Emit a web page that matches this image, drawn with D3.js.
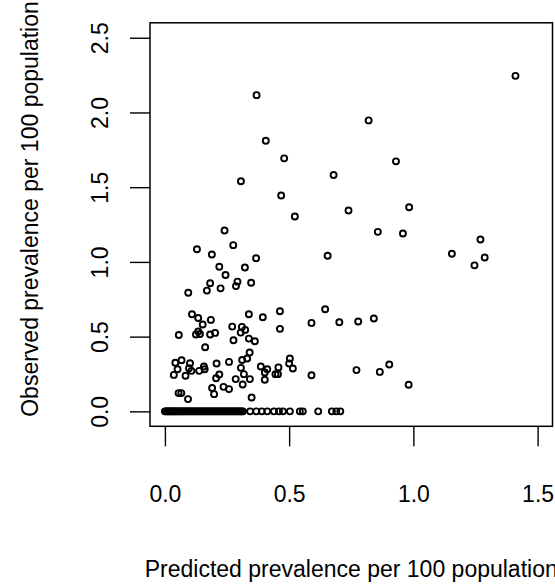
<!DOCTYPE html>
<html>
<head>
<meta charset="utf-8">
<script src="https://cdn.jsdelivr.net/npm/d3@7"></script>
<style>
  html, body { margin: 0; padding: 0; background: #fff; }
  svg { display: block; }
  text { font-family: "Liberation Sans", Arial, Helvetica, sans-serif; fill: #000; }
</style>
</head>
<body>
<svg id="chart" width="555" height="584"></svg>
<script>
// Areas with a non-zero observed prevalence: predicted vs observed (per 100 population)
const predictedPositive = [
  1.411, 0.369, 0.820, 0.406, 0.480, 0.930, 0.306, 0.679, 0.468, 0.523,
  0.739, 0.983, 0.240, 0.857, 0.958, 0.275, 0.129, 0.189, 0.367, 0.655,
  1.155, 1.270, 1.287, 1.246, 0.219, 0.322, 0.244, 0.182, 0.292, 0.347,
  0.169, 0.224, 0.286, 0.094, 0.109, 0.134, 0.185, 0.152, 0.338, 0.394,
  0.463, 0.463, 0.645, 0.590, 0.702, 0.778, 0.841, 0.056, 0.125, 0.134,
  0.141, 0.182, 0.202, 0.271, 0.310, 0.323, 0.305, 0.276, 0.338, 0.362,
  0.162, 0.341, 0.042, 0.067, 0.051, 0.036, 0.083, 0.101, 0.097, 0.107,
  0.138, 0.157, 0.160, 0.208, 0.219, 0.206, 0.190, 0.198, 0.236, 0.258,
  0.258, 0.311, 0.331, 0.306, 0.318, 0.285, 0.342, 0.313, 0.349, 0.386,
  0.402, 0.412, 0.402, 0.445, 0.455, 0.457, 0.503, 0.500, 0.515, 0.590,
  0.771, 0.865, 0.903, 0.981, 0.055, 0.066, 0.093
];
const observedPositive = [
  2.245, 2.116, 1.947, 1.811, 1.693, 1.673, 1.540, 1.582, 1.444, 1.304,
  1.344, 1.366, 1.210, 1.201, 1.190, 1.112, 1.085, 1.050, 1.025, 1.041,
  1.055, 1.150, 1.030, 0.977, 0.968, 0.963, 0.912, 0.857, 0.868, 0.861,
  0.808, 0.823, 0.838, 0.794, 0.650, 0.625, 0.612, 0.581, 0.650, 0.630,
  0.670, 0.552, 0.683, 0.592, 0.596, 0.601, 0.621, 0.511, 0.514, 0.534,
  0.518, 0.514, 0.525, 0.567, 0.565, 0.545, 0.527, 0.476, 0.487, 0.469,
  0.429, 0.394, 0.325, 0.342, 0.282, 0.244, 0.238, 0.322, 0.289, 0.271,
  0.271, 0.300, 0.282, 0.320, 0.247, 0.222, 0.156, 0.115, 0.164, 0.149,
  0.331, 0.344, 0.354, 0.291, 0.249, 0.216, 0.216, 0.180, 0.093, 0.300,
  0.260, 0.282, 0.211, 0.249, 0.249, 0.294, 0.354, 0.320, 0.287, 0.242,
  0.276, 0.264, 0.314, 0.178, 0.122, 0.122, 0.082
];
// Areas with no observed cases (observed prevalence 0): predicted values
const predictedZero = [
  0.000, 0.004, 0.009, 0.012, 0.016, 0.021, 0.024, 0.028, 0.033, 0.036,
  0.041, 0.045, 0.049, 0.054, 0.058, 0.062, 0.067, 0.071, 0.075, 0.080,
  0.084, 0.089, 0.093, 0.098, 0.102, 0.107, 0.111, 0.116, 0.121, 0.125,
  0.130, 0.134, 0.139, 0.143, 0.148, 0.153, 0.157, 0.162, 0.166, 0.171,
  0.176, 0.180, 0.185, 0.189, 0.194, 0.199, 0.203, 0.208, 0.212, 0.217,
  0.222, 0.226, 0.231, 0.235, 0.240, 0.245, 0.249, 0.254, 0.258, 0.263,
  0.268, 0.272, 0.277, 0.281, 0.286, 0.291, 0.295, 0.300, 0.305, 0.309,
  0.314, 0.343, 0.368, 0.390, 0.412, 0.439, 0.459, 0.475, 0.503, 0.543,
  0.555, 0.617, 0.672, 0.690, 0.706
];
const xTicks = [0, 0.5, 1.0, 1.5];
const yTicks = [0, 0.5, 1.0, 1.5, 2.0, 2.5];
const xTitle = "Predicted prevalence per 100 population";
const yTitle = "Observed prevalence per 100 population";

const points = predictedPositive.map((p, i) => ({ x: p, y: observedPositive[i] }))
  .concat(predictedZero.map(p => ({ x: p, y: 0 })));

const svg = d3.select("#chart");
const plot = { left: 150, right: 552.5, top: 22.8, bottom: 426.3 };

// Axis ranges padded by 4% on each side
const x = d3.scaleLinear().domain([-0.06, 1.56]).range([plot.left, plot.right]);
const y = d3.scaleLinear().domain([-0.1, 2.6]).range([plot.bottom, plot.top]);

const fmt = d3.format(".1f");
const fontSize = 23;

// Bottom axis
const gx = svg.append("g")
  .attr("transform", `translate(0,${plot.bottom})`)
  .call(d3.axisBottom(x).tickValues(xTicks).tickSize(20).tickFormat(fmt));
gx.select(".domain").remove();
gx.selectAll(".tick line").attr("stroke", "#000").attr("stroke-width", 1.4);
gx.selectAll(".tick text")
  .attr("y", 75.5).attr("dy", null)
  .attr("font-size", fontSize)
  .attr("font-family", "Liberation Sans, Arial, sans-serif");

// Left axis with rotated labels
const gy = svg.append("g")
  .attr("transform", `translate(${plot.left},0)`)
  .call(d3.axisLeft(y).tickValues(yTicks).tickSize(20).tickFormat(fmt));
gy.select(".domain").remove();
gy.selectAll(".tick line").attr("stroke", "#000").attr("stroke-width", 1.4);
gy.selectAll(".tick text")
  .attr("x", 0).attr("y", -42).attr("dy", null)
  .attr("text-anchor", "middle")
  .attr("transform", "rotate(-90)")
  .attr("font-size", fontSize)
  .attr("font-family", "Liberation Sans, Arial, sans-serif");

// Plot frame
svg.append("rect")
  .attr("x", plot.left).attr("y", plot.top)
  .attr("width", plot.right - plot.left).attr("height", plot.bottom - plot.top)
  .attr("fill", "none").attr("stroke", "#000").attr("stroke-width", 1.5);

// Points
svg.append("g").selectAll("circle")
  .data(points)
  .join("circle")
  .attr("cx", d => x(d.x))
  .attr("cy", d => y(d.y))
  .attr("r", 3)
  .attr("fill", "none")
  .attr("stroke", "#000")
  .attr("stroke-width", 1.9);

// Axis titles
svg.append("text")
  .attr("x", (plot.left + plot.right) / 2).attr("y", 577)
  .attr("text-anchor", "middle")
  .attr("font-size", fontSize)
  .text(xTitle);

svg.append("text")
  .attr("transform", "translate(38,209) rotate(-90)")
  .attr("text-anchor", "middle")
  .attr("font-size", fontSize)
  .text(yTitle);
</script>
</body>
</html>
